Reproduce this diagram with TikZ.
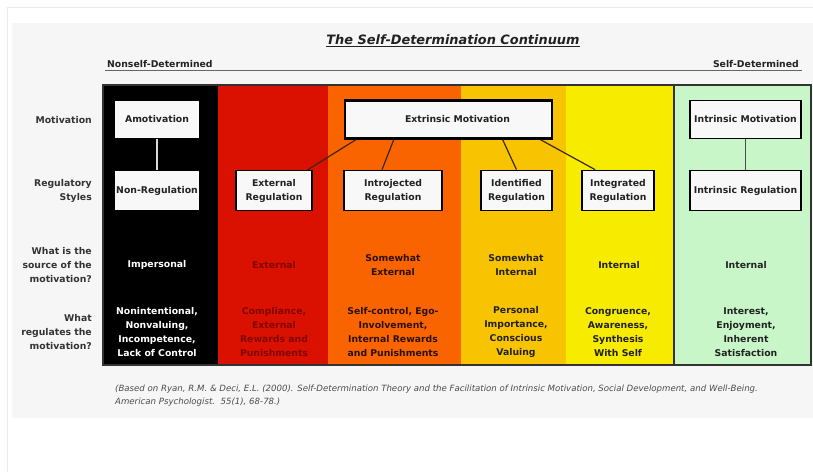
\documentclass[tikz,border=0pt]{standalone}
\usepackage{fontspec}
\setmainfont{DejaVu Sans}
\usetikzlibrary{calc}
\definecolor{cred}{HTML}{DA1000}
\definecolor{corange}{HTML}{FA6400}
\definecolor{camber}{HTML}{F8C300}
\definecolor{cyellow}{HTML}{F7EC00}
\definecolor{cgreen}{HTML}{C8F6C8}
\definecolor{panel}{HTML}{F6F6F6}
\definecolor{boxfill}{HTML}{F8F8F8}
\definecolor{linkc}{HTML}{3A2814}
\definecolor{redtext}{HTML}{820600}
\definecolor{orangetext}{HTML}{2B1200}
\definecolor{labeltext}{HTML}{333333}
\definecolor{celltext}{HTML}{222222}
\begin{document}
\begin{tikzpicture}[x=1pt,y=-1pt,
  every node/.style={font=\fontsize{9.3}{14}\selectfont\bfseries, inner sep=0pt},
  regbox/.style={draw=black, line width=1.6pt, fill=boxfill, minimum height=40pt, align=center, text=celltext},
  motbox/.style={regbox, minimum height=38pt},
  rowlabel/.style={anchor=east, align=right, text=labeltext},
  cell/.style={align=center, text=celltext},
  connector/.style={draw=linkc, line width=1.2pt},
  reftext/.style={anchor=base west, font=\fontsize{8.6}{13}\selectfont\itshape, text=black!70}
]
\useasboundingbox (0,0) rectangle (813,472);
\fill[white] (0,0) rectangle (813,472);
\draw[color=black!8, line width=0.8pt] (7.5,472) -- (7.5,7.5) -- (813,7.5);
\fill[panel] (12,23) rectangle (813,418);

% title and header
\node[text=celltext] (title) at (453,41) {\fontsize{12.9}{15}\selectfont\bfseries\itshape\underline{The Self-Determination Continuum}};
\node[anchor=base west, text=celltext] (nonself) at (107,67) {Nonself-Determined};
\node[anchor=base east, text=celltext] (selfdet) at (799,67) {Self-Determined};
\coordinate (hl) at (105,70.5);
\coordinate (hr) at (802,70.5);
\draw[color=black!60, line width=1.5pt] (hl) -- (hr);

% columns
\fill[black] (103,85) rectangle (218,365);
\fill[cred] (218,85) rectangle (328,365);
\fill[corange] (328,85) rectangle (461,365);
\fill[camber] (461,85) rectangle (566,365);
\fill[cyellow] (566,85) rectangle (674,365);
\fill[cgreen] (674,85) rectangle (811,365);
\draw[color=black!80, line width=1.5pt] (103,85) rectangle (811,365);
\draw[color=black!80, line width=1.2pt] (674,85) -- (674,365);

% boxes
\node[motbox, minimum width=86pt] (amot) at (157,119.5) {Amotivation};
\node[regbox, minimum width=86pt] (nonreg) at (157,190.5) {Non-Regulation};
\node[regbox, minimum width=76pt] (extreg) at (274,190.5) {External\\Regulation};
\node[regbox, minimum width=98pt] (introreg) at (393,190.5) {Introjected\\Regulation};
\node[motbox, minimum width=207pt, line width=2.6pt] (extmot) at (448.5,119.5) {\hspace*{18pt}Extrinsic Motivation};
\node[regbox, minimum width=71pt] (identreg) at (516.5,190.5) {Identified\\Regulation};
\node[regbox, minimum width=72pt] (integreg) at (618,190.5) {Integrated\\Regulation};
\node[motbox, minimum width=111pt] (intmot) at (745.5,119.5) {Intrinsic Motivation};
\node[regbox, minimum width=111pt] (intreg) at (745.5,190.5) {Intrinsic Regulation};

% connectors
\draw[color=black!15, line width=1.2pt] (amot) -- (nonreg);
\draw[color=black!70, line width=1pt] (intmot) -- (intreg);
\draw[connector] ($(extmot.south west)+(12,0)$) -- ($(extreg.north east)+(-5,0)$);
\draw[connector] ($(extmot.south west)+(50,0)$) -- ($(introreg.north)+(-11,0)$);
\draw[connector] ($(extmot.south west)+(159,0)$) -- (identreg.north);
\draw[connector] ($(extmot.south west)+(197,0)$) -- ($(integreg.north west)+(14,0)$);

% row labels
\node[rowlabel] (lmot) at (92,120) {Motivation};
\node[rowlabel] (lreg) at (92,191) {Regulatory\\Styles};
\node[rowlabel] (lsrc) at (92,265) {What is the\\source of the\\motivation?};
\node[rowlabel] (lwhat) at (92,332) {What\\regulates the\\motivation?};

% source row
\node[cell, text=white] (s1) at (157,265) {Impersonal};
\node[cell, text=redtext] (s2) at (274,265) {External};
\node[cell, text=orangetext] (s3) at (393,265) {Somewhat\\External};
\node[cell] (s4) at (516,265) {Somewhat\\Internal};
\node[cell] (s5) at (619,265) {Internal};
\node[cell] (s6) at (746,265) {Internal};

% regulates row
\node[cell, text=white] (r1) at (157,332) {Nonintentional,\\Nonvaluing,\\Incompetence,\\Lack of Control};
\node[cell, text=redtext] (r2) at (274,332) {Compliance,\\External\\Rewards and\\Punishments};
\node[cell, text=orangetext] (r3) at (393,332) {Self-control, Ego-\\Involvement,\\Internal Rewards\\and Punishments};
\node[cell] (r4) at (516,332) {Personal\\Importance,\\Conscious\\Valuing};
\node[cell] (r5) at (618,332) {Congruence,\\Awareness,\\Synthesis\\With Self};
\node[cell] (r6) at (746,332) {Interest,\\Enjoyment,\\Inherent\\Satisfaction};

% reference
\node[reftext] (ref1) at (115,391) {(Based on Ryan, R.M. \& Deci, E.L. (2000). Self-Determination Theory and the Facilitation of Intrinsic Motivation, Social Development, and Well-Being.};
\node[reftext] (ref2) at (115,404) {American Psychologist.\ \ 55(1), 68-78.)};
\end{tikzpicture}
\end{document}
